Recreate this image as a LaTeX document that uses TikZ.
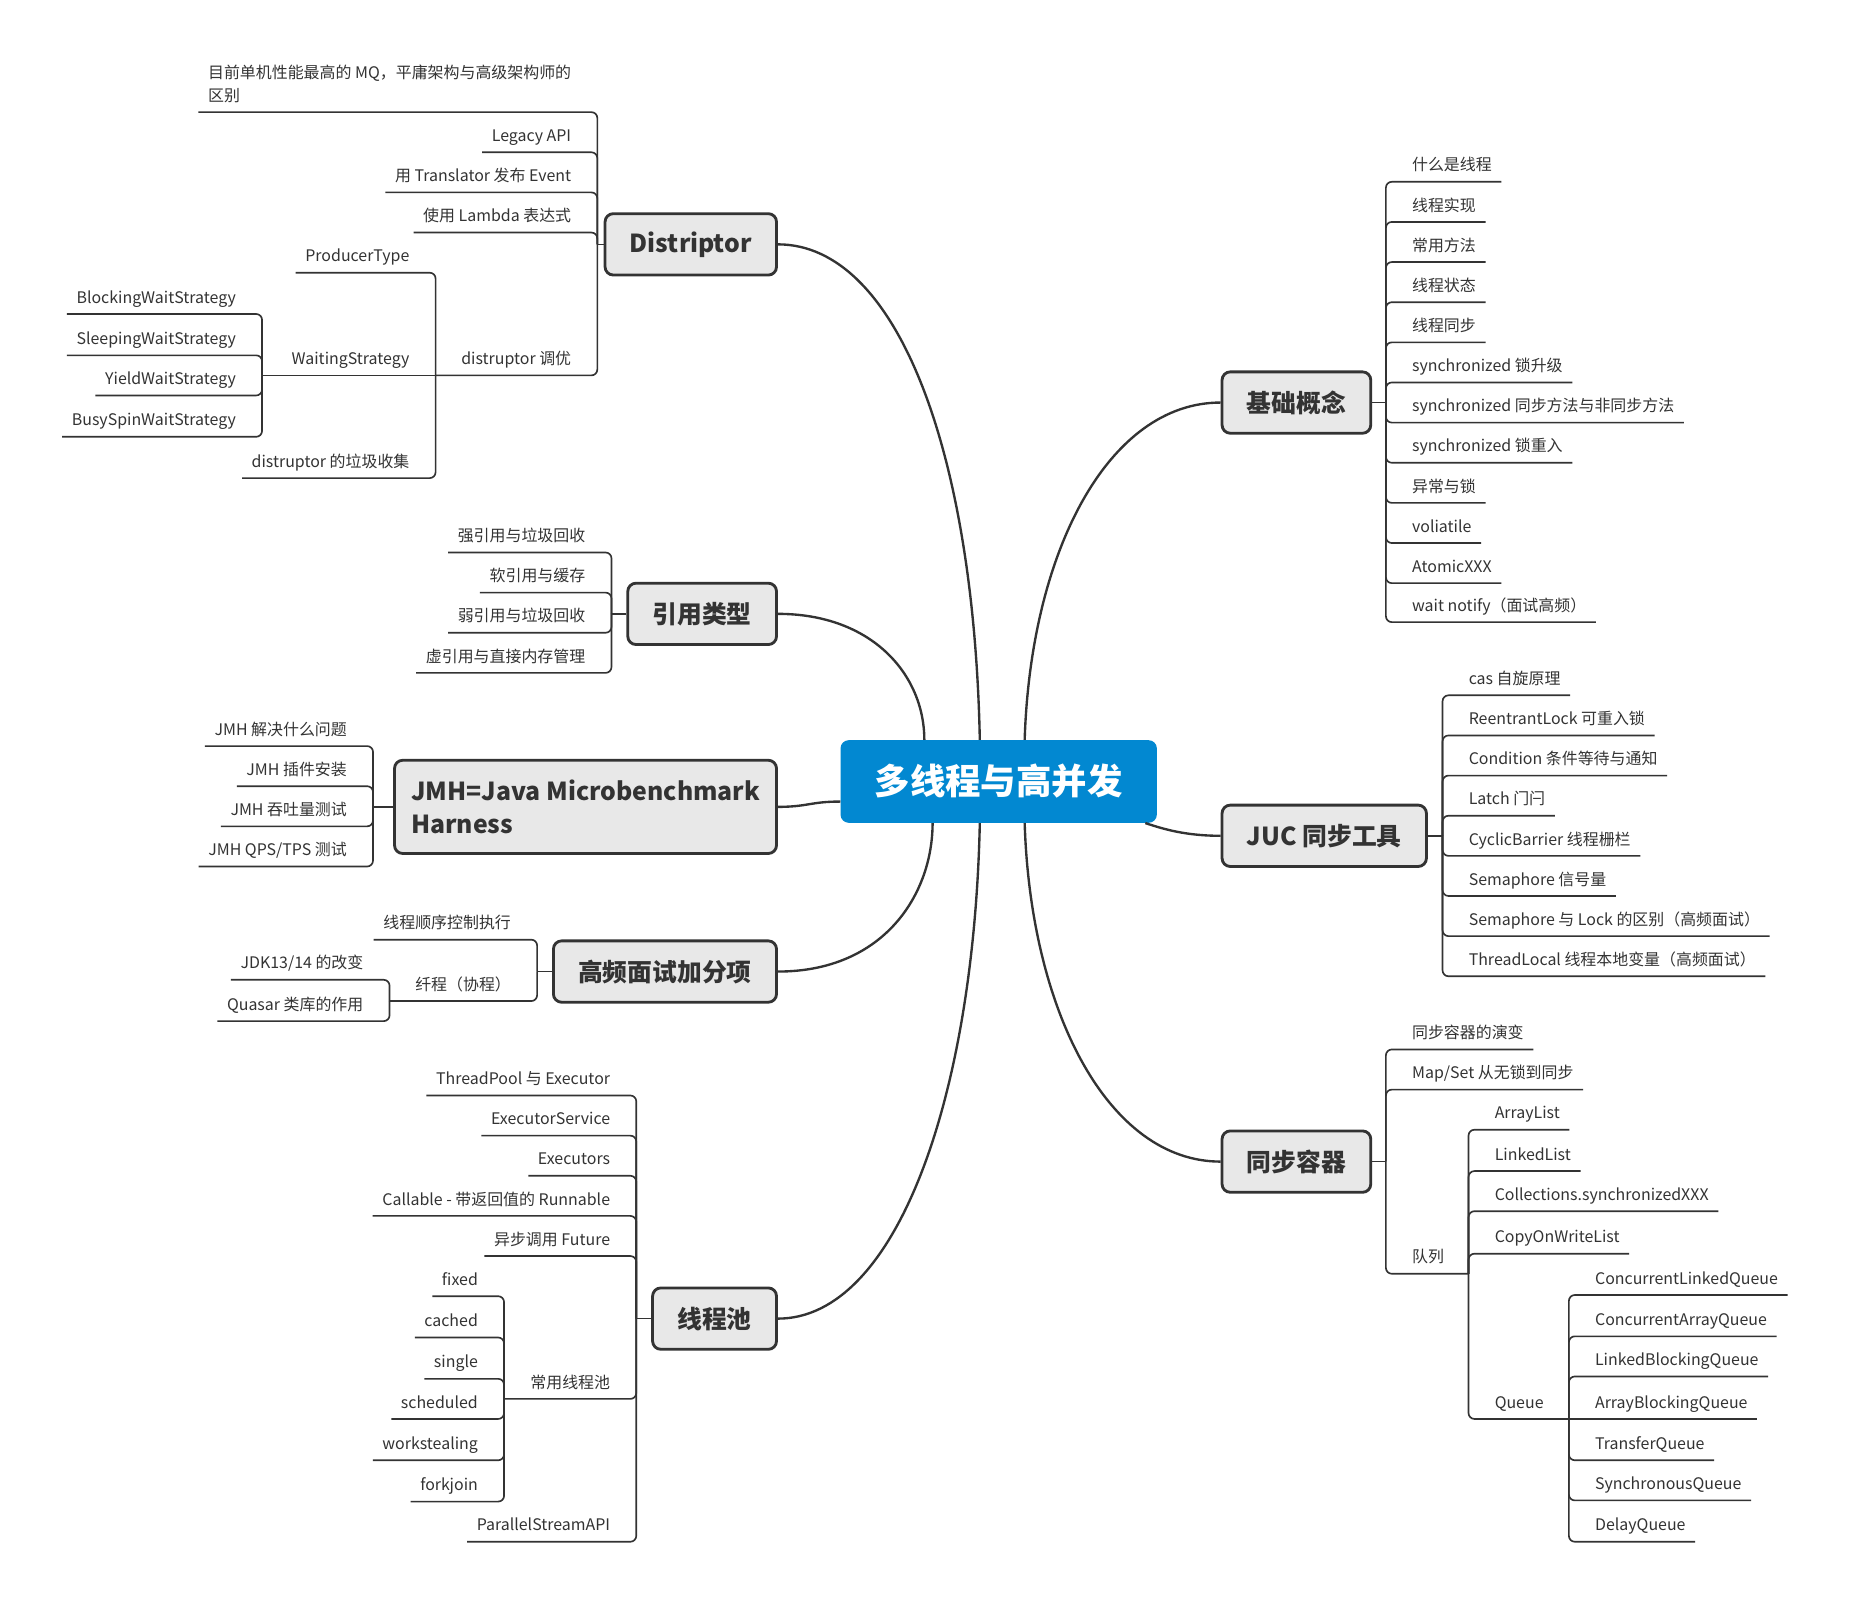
\documentclass[tikz,border=0pt]{standalone}
\usepackage{fontspec}
\setmainfont{Noto Sans CJK SC}
\usepackage{tikz}
\definecolor{mapline}{HTML}{333333}
\definecolor{maptext}{HTML}{333333}
\definecolor{topicfill}{HTML}{E8E8E8}
\definecolor{rootblue}{HTML}{0288D1}
\newcommand{\leaffont}{\fontsize{13.5}{19}\selectfont}
\newcommand{\topicfont}{\fontsize{21}{28}\selectfont\bfseries}
\newcommand{\rootfont}{\fontsize{30}{36}\selectfont\bfseries}

\begin{document}
\begin{tikzpicture}[x=1pt, y=-1pt,
    twig/.style={font=\leaffont, text=maptext, inner xsep=8pt, inner ysep=5pt, text depth=4pt},
    rtwig/.style={twig, anchor=south west},
    ltwig/.style={twig, anchor=south east},
    topic/.style={draw=mapline, fill=topicfill, line width=2.4pt, rounded corners=7pt,
      font=\topicfont, text=maptext, inner xsep=21pt, minimum height=52pt},
    rootbox/.style={fill=rootblue, rounded corners=7pt, font=\rootfont, text=white,
      minimum width=268pt, minimum height=70pt},
    link/.style={draw=mapline, line width=1.4pt, rounded corners=5pt},
    bough/.style={draw=mapline, line width=2pt}]
  \fill[white] (0,0) rectangle (1568,1360);
  \useasboundingbox (0,0) rectangle (1568,1360);

  % centre and main topics
  \node[rootbox] (root) at (846,662) {多线程与高并发};
  \node[topic, anchor=east] (distriptor) at (659,207) {Distriptor};
  \node[topic, anchor=east] (yinyong) at (659,520) {引用类型};
  \node[topic, anchor=east, align=left, inner xsep=14pt, minimum height=79pt] (jmh) at (659,683.5) {JMH=Java Microbenchmark\\Harness};
  \node[topic, anchor=east] (gaopin) at (659,823) {高频面试加分项};
  \node[topic, anchor=east] (xcpool) at (659,1117) {线程池};
  \node[topic, anchor=west] (jichu) at (1034,341) {基础概念};
  \node[topic, anchor=west] (juc) at (1034,708) {JUC 同步工具};
  \node[topic, anchor=west] (rongqi) at (1034,984) {同步容器};

  \draw[bough] (distriptor.east) .. controls +(100,0) and +(-5,-247) .. ([xshift=-16pt]root.north);
  \draw[bough] (yinyong.east) .. controls +(80,0) and +(0,-55) .. ([xshift=-63pt]root.north);
  \draw[bough] (jmh.east) .. controls +(25,0) and +(-25,0) .. ([yshift=-17pt]root.west);
  \draw[bough] (gaopin.east) .. controls +(90,0) and +(0,60) .. ([xshift=-56pt]root.south);
  \draw[bough] (xcpool.east) .. controls +(100,0) and +(-5,233) .. ([xshift=-16pt]root.south);
  \draw[bough] (jichu.west) .. controls +(-95,0) and +(5,-160) .. ([xshift=22pt]root.north);
  \draw[bough] (juc.west) .. controls +(-30,0) and +(15,5) .. ([xshift=-10pt]root.south east);
  \draw[bough] (rongqi.west) .. controls +(-95,0) and +(5,160) .. ([xshift=22pt]root.south);

  % spines
  \coordinate (distriptorS) at (506,207);
  \coordinate (ds5S) at (369,318);
  \coordinate (dt2S) at (222,318);
  \coordinate (yinyongS) at (518,520);
  \coordinate (jmhS) at (316,683.5);
  \coordinate (gaopinS) at (455,823);
  \coordinate (gp2S) at (330,848);
  \coordinate (xcpoolS) at (539,1117);
  \coordinate (tp6S) at (427,1185);
  \coordinate (jichuS) at (1174,341);
  \coordinate (jucS) at (1222,708);
  \coordinate (rongqiS) at (1174,984);
  \coordinate (rq3S) at (1244,1079);
  \coordinate (dl5S) at (1329,1202);

  % Distriptor
  \node[ltwig, align=left] (ds1) at (492,95) {目前单机性能最高的 MQ，平庸架构与高级架构师的\\区别};
  \node[ltwig] (ds2) at (492,129) {Legacy API};
  \node[ltwig] (ds3) at (492,163) {用 Translator 发布 Event};
  \node[ltwig] (ds4) at (492,197) {使用 Lambda 表达式};
  \node[ltwig] (ds5) at (492,318) {distruptor 调优};
  \node[ltwig] (dt1) at (355,231) {ProducerType};
  \node[ltwig] (dt2) at (355,318) {WaitingStrategy};
  \node[ltwig] (dt3) at (355,405) {distruptor 的垃圾收集};
  \node[ltwig] (ws1) at (208,266) {BlockingWaitStrategy};
  \node[ltwig] (ws2) at (208,301) {SleepingWaitStrategy};
  \node[ltwig] (ws3) at (208,335) {YieldWaitStrategy};
  \node[ltwig] (ws4) at (208,370) {BusySpinWaitStrategy};

  % 引用类型
  \node[ltwig] (ry1) at (504,468) {强引用与垃圾回收};
  \node[ltwig] (ry2) at (504,502) {软引用与缓存};
  \node[ltwig] (ry3) at (504,536) {弱引用与垃圾回收};
  \node[ltwig] (ry4) at (504,570) {虚引用与直接内存管理};

  % JMH
  \node[ltwig] (jm1) at (302,632) {JMH 解决什么问题};
  \node[ltwig] (jm2) at (302,666) {JMH 插件安装};
  \node[ltwig] (jm3) at (302,700) {JMH 吞吐量测试};
  \node[ltwig] (jm4) at (302,734) {JMH QPS/TPS 测试};

  % 高频面试加分项
  \node[ltwig] (gp1) at (441,796) {线程顺序控制执行};
  \node[ltwig] (gp2) at (441,848) {纤程（协程）};
  \node[ltwig] (xc1) at (316,830) {JDK13/14 的改变};
  \node[ltwig] (xc2) at (316,865) {Quasar 类库的作用};

  % 线程池
  \node[ltwig] (tp1) at (525,928) {ThreadPool 与 Executor};
  \node[ltwig] (tp2) at (525,962) {ExecutorService};
  \node[ltwig] (tp3) at (525,996) {Executors};
  \node[ltwig] (tp4) at (525,1030) {Callable - 带返回值的 Runnable};
  \node[ltwig] (tp5) at (525,1064) {异步调用 Future};
  \node[ltwig] (tp6) at (525,1185) {常用线程池};
  \node[ltwig] (tp7) at (525,1306) {ParallelStreamAPI};
  \node[ltwig] (cy1) at (413,1098) {fixed};
  \node[ltwig] (cy2) at (413,1133) {cached};
  \node[ltwig] (cy3) at (413,1168) {single};
  \node[ltwig] (cy4) at (413,1202) {scheduled};
  \node[ltwig] (cy5) at (413,1237) {workstealing};
  \node[ltwig] (cy6) at (413,1272) {forkjoin};

  % 基础概念
  \node[rtwig] (jc1) at (1188,154) {什么是线程};
  \node[rtwig] (jc2) at (1188,188) {线程实现};
  \node[rtwig] (jc3) at (1188,222) {常用方法};
  \node[rtwig] (jc4) at (1188,256) {线程状态};
  \node[rtwig] (jc5) at (1188,290) {线程同步};
  \node[rtwig] (jc6) at (1188,324) {synchronized 锁升级};
  \node[rtwig] (jc7) at (1188,358) {synchronized 同步方法与非同步方法};
  \node[rtwig] (jc8) at (1188,392) {synchronized 锁重入};
  \node[rtwig] (jc9) at (1188,426) {异常与锁};
  \node[rtwig] (jc10) at (1188,460) {voliatile};
  \node[rtwig] (jc11) at (1188,494) {AtomicXXX};
  \node[rtwig] (jc12) at (1188,527) {wait notify（面试高频）};

  % JUC 同步工具
  \node[rtwig] (ju1) at (1236,589) {cas 自旋原理};
  \node[rtwig] (ju2) at (1236,623) {ReentrantLock 可重入锁};
  \node[rtwig] (ju3) at (1236,657) {Condition 条件等待与通知};
  \node[rtwig] (ju4) at (1236,691) {Latch 门闩};
  \node[rtwig] (ju5) at (1236,725) {CyclicBarrier 线程栅栏};
  \node[rtwig] (ju6) at (1236,759) {Semaphore 信号量};
  \node[rtwig] (ju7) at (1236,793) {Semaphore 与 Lock 的区别（高频面试）};
  \node[rtwig] (ju8) at (1236,827) {ThreadLocal 线程本地变量（高频面试）};

  % 同步容器
  \node[rtwig] (rq1) at (1188,889) {同步容器的演变};
  \node[rtwig] (rq2) at (1188,923) {Map/Set 从无锁到同步};
  \node[rtwig] (rq3) at (1188,1079) {队列};
  \node[rtwig] (dl1) at (1258,957) {ArrayList};
  \node[rtwig] (dl2) at (1258,992) {LinkedList};
  \node[rtwig] (dl3) at (1258,1026) {Collections.synchronizedXXX};
  \node[rtwig] (dl4) at (1258,1062) {CopyOnWriteList};
  \node[rtwig] (dl5) at (1258,1202) {Queue};
  \node[rtwig] (qu1) at (1343,1097) {ConcurrentLinkedQueue};
  \node[rtwig] (qu2) at (1343,1132) {ConcurrentArrayQueue};
  \node[rtwig] (qu3) at (1343,1166) {LinkedBlockingQueue};
  \node[rtwig] (qu4) at (1343,1202) {ArrayBlockingQueue};
  \node[rtwig] (qu5) at (1343,1237) {TransferQueue};
  \node[rtwig] (qu6) at (1343,1271) {SynchronousQueue};
  \node[rtwig] (qu7) at (1343,1306) {DelayQueue};

  % connectors, left side
  \draw[link] (distriptor.west) -- (distriptorS);
  \foreach \n in {1,...,4} \draw[link] (distriptorS) |- (ds\n.south east) -- (ds\n.south west);
  \draw[link] (distriptorS) |- (ds5.south east) -- (ds5S);
  \foreach \n in {1,3} \draw[link] (ds5S) |- (dt\n.south east) -- (dt\n.south west);
  \draw[link] (ds5S) -- (dt2.south east) -- (dt2S);
  \foreach \n in {1,...,4} \draw[link] (dt2S) |- (ws\n.south east) -- (ws\n.south west);
  \draw[link] (yinyong.west) -- (yinyongS);
  \foreach \n in {1,...,4} \draw[link] (yinyongS) |- (ry\n.south east) -- (ry\n.south west);
  \draw[link] (jmh.west) -- (jmhS);
  \foreach \n in {1,...,4} \draw[link] (jmhS) |- (jm\n.south east) -- (jm\n.south west);
  \draw[link] (gaopin.west) -- (gaopinS);
  \draw[link] (gaopinS) |- (gp1.south east) -- (gp1.south west);
  \draw[link] (gaopinS) |- (gp2.south east) -- (gp2S);
  \foreach \n in {1,2} \draw[link] (gp2S) |- (xc\n.south east) -- (xc\n.south west);
  \draw[link] (xcpool.west) -- (xcpoolS);
  \foreach \n in {1,...,5,7} \draw[link] (xcpoolS) |- (tp\n.south east) -- (tp\n.south west);
  \draw[link] (xcpoolS) |- (tp6.south east) -- (tp6S);
  \foreach \n in {1,...,6} \draw[link] (tp6S) |- (cy\n.south east) -- (cy\n.south west);

  % connectors, right side
  \draw[link] (jichu.east) -- (jichuS);
  \foreach \n in {1,...,12} \draw[link] (jichuS) |- (jc\n.south west) -- (jc\n.south east);
  \draw[link] (juc.east) -- (jucS);
  \foreach \n in {1,...,8} \draw[link] (jucS) |- (ju\n.south west) -- (ju\n.south east);
  \draw[link] (rongqi.east) -- (rongqiS);
  \foreach \n in {1,2} \draw[link] (rongqiS) |- (rq\n.south west) -- (rq\n.south east);
  \draw[link] (rongqiS) |- (rq3.south west) -- (rq3S);
  \foreach \n in {1,...,4} \draw[link] (rq3S) |- (dl\n.south west) -- (dl\n.south east);
  \draw[link] (rq3S) |- (dl5.south west) -- (dl5S);
  \foreach \n in {1,2,3,5,6,7} \draw[link] (dl5S) |- (qu\n.south west) -- (qu\n.south east);
  \draw[link] (dl5S) -- (qu4.south west) -- (qu4.south east);
\end{tikzpicture}
\end{document}
